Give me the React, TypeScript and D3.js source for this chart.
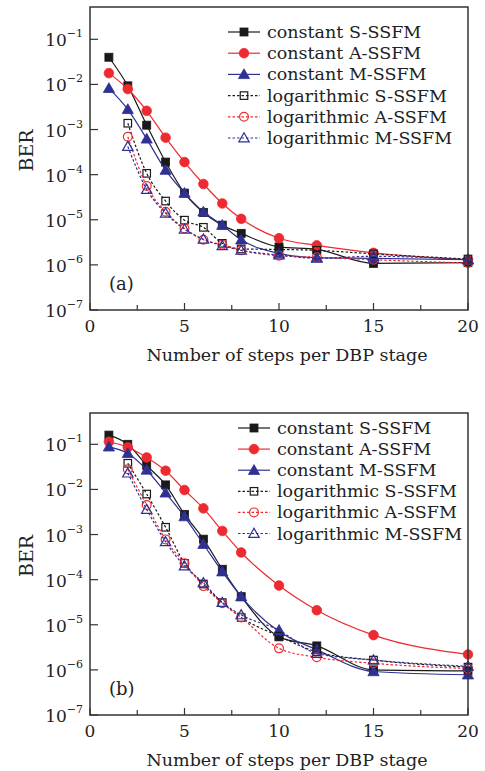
import React from "react";
import * as d3 from "d3";

const steps = [1, 2, 3, 4, 5, 6, 7, 8, 10, 12, 15, 20];
const logSteps = [2, 3, 4, 5, 6, 7, 8, 10, 12, 15, 20];

const legendLabels = [
  "constant S-SSFM",
  "constant A-SSFM",
  "constant M-SSFM",
  "logarithmic S-SSFM",
  "logarithmic A-SSFM",
  "logarithmic M-SSFM",
];

// panel (a)
const aConstS = [0.04, 0.0093, 1.25e-3, 1.9e-4, 3.9e-5, 1.45e-5, 7.6e-6, 5.0e-6, 2.5e-6, 2.2e-6, 1.08e-6, 1.12e-6];
const aConstA = [0.0178, 0.0079, 2.6e-3, 6.6e-4, 1.9e-4, 6.2e-5, 2.3e-5, 1.05e-5, 3.9e-6, 2.7e-6, 1.85e-6, 1.3e-6];
const aConstM = [8.2e-3, 2.8e-3, 6.2e-4, 1.26e-4, 3.9e-5, 1.5e-5, 7.6e-6, 3.6e-6, 1.8e-6, 1.45e-6, 1.4e-6, 1.3e-6];
const aLogS = [1.38e-3, 1.07e-4, 2.6e-5, 9.8e-6, 6.8e-6, 3.0e-6, 2.25e-6, 2.2e-6, 2.1e-6, 1.75e-6, 1.35e-6];
const aLogA = [6.9e-4, 5.6e-5, 1.5e-5, 6.4e-6, 3.6e-6, 2.8e-6, 2.1e-6, 1.6e-6, 1.48e-6, 1.3e-6, 1.1e-6];
const aLogM = [4.2e-4, 4.7e-5, 1.4e-5, 6.2e-6, 3.7e-6, 2.65e-6, 2.1e-6, 1.65e-6, 1.4e-6, 1.55e-6, 1.3e-6];

// panel (b)
const bConstS = [0.16, 0.1, 0.034, 0.0126, 2.8e-3, 7.9e-4, 1.7e-4, 4.2e-5, 5.4e-6, 3.4e-6, 1.0e-6, 9.5e-7];
const bConstA = [0.114, 0.086, 0.051, 0.026, 0.0097, 3.8e-3, 1.2e-3, 4.0e-4, 7.4e-5, 2.1e-5, 5.9e-6, 2.2e-6];
const bConstM = [0.088, 0.063, 0.027, 8.4e-3, 2.5e-3, 6.1e-4, 1.5e-4, 4.2e-5, 7.1e-6, 2.8e-6, 9.2e-7, 7.8e-7];
const bLogS = [0.038, 7.9e-3, 1.45e-3, 2.3e-4, 8e-5, 3.1e-5, 1.45e-5, 5.6e-6, 2.5e-6, 1.65e-6, 1.15e-6];
const bLogA = [0.028, 4.5e-3, 7.8e-4, 2.3e-4, 7.2e-5, 3e-5, 1.45e-5, 3e-6, 1.9e-6, 1.4e-6, 1.07e-6];
const bLogM = [0.023, 3.6e-3, 6.9e-4, 2.0e-4, 8.5e-5, 3.1e-5, 1.66e-5, 7.6e-6, 2.3e-6, 1.65e-6, 1.2e-6];

const yTickExps = [-1, -2, -3, -4, -5, -6, -7];
const xTicks = [0, 5, 10, 15, 20];
const xMinorTicks = [2.5, 7.5, 12.5, 17.5];

const BLACK = "#1a1a1a";
const RED = "#ec2a30";
const BLUE = "#2e3192";
const FONT = "DejaVu Serif";

const styles = [
  { color: BLACK, shape: "square", filled: true },
  { color: RED, shape: "circle", filled: true },
  { color: BLUE, shape: "triangle", filled: true },
  { color: BLACK, shape: "square", filled: false },
  { color: RED, shape: "circle", filled: false },
  { color: BLUE, shape: "triangle", filled: false },
];

const Marker = ({ shape, filled, color, x, y }) => {
  const fill = filled ? color : "none";
  const sw = filled ? 0.8 : 1.2;
  if (shape === "square") {
    const s = filled ? 8 : 7.5;
    return <rect x={x - s / 2} y={y - s / 2} width={s} height={s} fill={fill} stroke={color} strokeWidth={sw} />;
  }
  if (shape === "circle") {
    const r = filled ? 4.8 : 4.4;
    return <circle cx={x} cy={y} r={r} fill={fill} stroke={color} strokeWidth={sw} />;
  }
  const h = filled ? 5.6 : 5.2;
  return (
    <polygon
      points={`${x},${y - h} ${x - h},${y + h * 0.75} ${x + h},${y + h * 0.75}`}
      fill={fill}
      stroke={color}
      strokeWidth={sw}
    />
  );
};

const Panel = ({ top, bottom, yMax, series, tag, legend }) => {
  const left = 90;
  const right = 468;
  const x = d3.scaleLinear().domain([0, 20]).range([left, right]);
  const y = d3.scaleLog().domain([1e-7, yMax]).range([bottom, top]);
  const line = d3
    .line<number[]>()
    .x((d) => x(d[0]))
    .y((d) => y(d[1]))
    .curve(d3.curveMonotoneX);

  return (
    <g>
      {series.map((vals, i) => {
        const xs = i < 3 ? steps : logSteps;
        const pts = xs.map((s, j) => [s, vals[j]]);
        const st = styles[i];
        return (
          <g key={i}>
            <path
              d={line(pts)}
              fill="none"
              stroke={st.color}
              strokeWidth={1.2}
              strokeDasharray={st.filled ? null : "2.5,2"}
            />
            {pts.map((p, j) => (
              <Marker key={j} shape={st.shape} filled={st.filled} color={st.color} x={x(p[0])} y={y(p[1])} />
            ))}
          </g>
        );
      })}

      <rect x={left} y={top} width={right - left} height={bottom - top} fill="none" stroke="#333" strokeWidth={1.5} />

      {yTickExps.map((e) => (
        <g key={e}>
          <line x1={left} x2={left + 8} y1={y(10 ** e)} y2={y(10 ** e)} stroke="#333" strokeWidth={1.2} />
          <text x={83} y={y(10 ** e) + 7} textAnchor="end" fontFamily={FONT} fontSize={17} fill="#222">
            10
            <tspan fontSize={11} dy={-9}>
              {"\u2212" + -e}
            </tspan>
          </text>
        </g>
      ))}
      {xTicks.map((t) => (
        <g key={t}>
          <line x1={x(t)} x2={x(t)} y1={bottom} y2={bottom - 7} stroke="#333" strokeWidth={1.2} />
          <text x={x(t)} y={bottom + 22} textAnchor="middle" fontFamily={FONT} fontSize={17} fill="#222">
            {t}
          </text>
        </g>
      ))}
      {xMinorTicks.map((t) => (
        <line key={t} x1={x(t)} x2={x(t)} y1={bottom} y2={bottom - 5} stroke="#333" strokeWidth={1.2} />
      ))}

      <text x={x(1)} y={y(10 ** -6.55)} fontFamily={FONT} fontSize={18} fill="#222">
        {tag}
      </text>

      <text
        transform={`translate(33, ${(top + bottom) / 2 - 8}) rotate(-90)`}
        textAnchor="middle"
        fontFamily={FONT}
        fontSize={19}
        fill="#222"
      >
        BER
      </text>
      <text x={(left + right) / 2 + 8} y={bottom + 51} textAnchor="middle" fontFamily={FONT} fontSize={17.5} fill="#222">
        Number of steps per DBP stage
      </text>

      {legendLabels.map((lab, i) => {
        const st = styles[i];
        const ly = legend.y + i * legend.dy;
        return (
          <g key={lab}>
            <line
              x1={legend.x}
              x2={legend.x + 32}
              y1={ly}
              y2={ly}
              stroke={st.color}
              strokeWidth={1.2}
              strokeDasharray={st.filled ? null : "2.5,2"}
            />
            <Marker shape={st.shape} filled={st.filled} color={st.color} x={legend.x + 16} y={ly} />
            <text x={legend.x + 39} y={ly + 6} fontFamily={FONT} fontSize={17.5} fill="#222">
              {lab}
            </text>
          </g>
        );
      })}
    </g>
  );
};

export default function App() {
  return (
    <svg width={485} height={771} style={{ position: "absolute", left: 0, top: 0, background: "#fff" }}>
      <Panel
        top={7}
        bottom={310}
        yMax={10 ** -0.284}
        series={[aConstS, aConstA, aConstM, aLogS, aLogA, aLogM]}
        tag="(a)"
        legend={{ x: 228, y: 32, dy: 21.2 }}
      />
      <Panel
        top={413}
        bottom={715}
        yMax={10 ** -0.306}
        series={[bConstS, bConstA, bConstM, bLogS, bLogA, bLogM]}
        tag="(b)"
        legend={{ x: 238, y: 428, dy: 21.1 }}
      />
    </svg>
  );
}
